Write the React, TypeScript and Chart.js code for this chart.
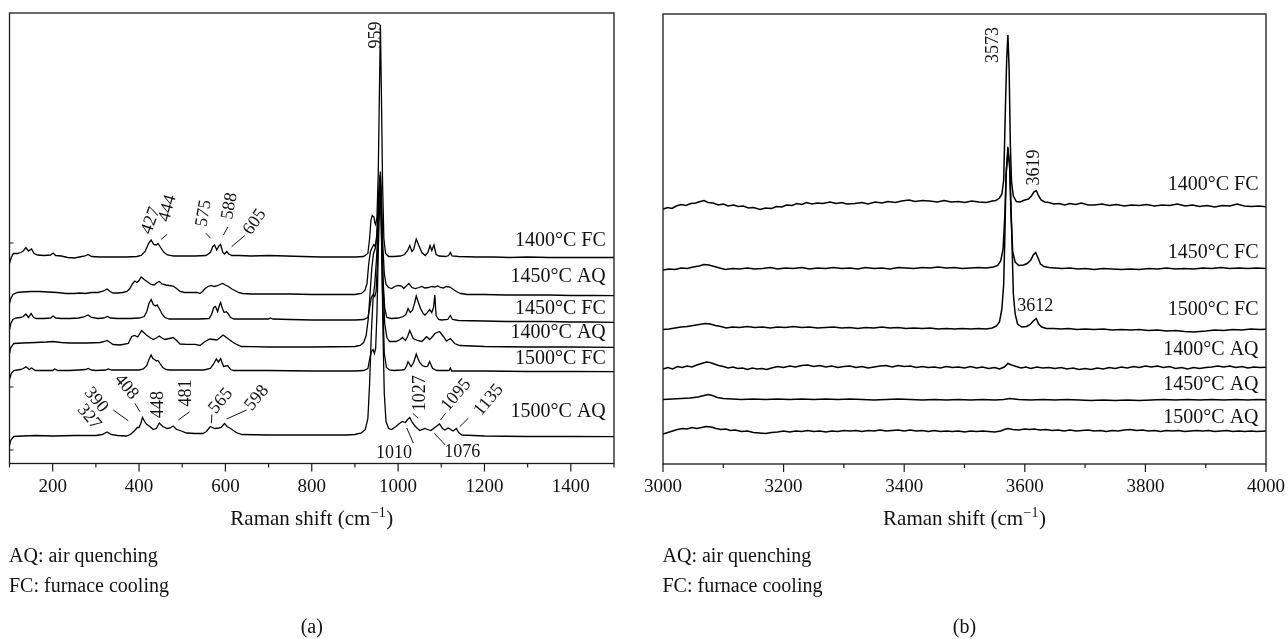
import React, { useEffect, useRef } from "react";
import { Chart, registerables } from "chart.js";

Chart.register(...registerables);

type Pt = [number, number];

const FONT = "'Liberation Serif', 'Times New Roman', 'DejaVu Serif', serif";

// ================= Panel (a): 100–1500 cm-1 =================
const aTickLabels = [200, 400, 600, 800, 1000, 1200, 1400];
const aSeriesNames = ["1400°C FC", "1450°C AQ", "1450°C FC", "1400°C AQ", "1500°C FC", "1500°C AQ"];

const a1400FC: Pt[] = [
  [100, 200], [104, 206], [109, 210], [118, 210], [126, 211], [132, 212.5], [138, 216], [144, 212.5], [151, 214.5], [157, 210],
  [165, 208.5], [180, 208], [195, 208.5], [201, 210.5], [207, 208], [220, 207.5], [235, 206], [250, 205.5], [262, 206.5],
  [275, 207.5], [282, 209], [290, 207], [310, 206.5], [340, 206.5], [370, 206.5], [395, 207], [405, 208], [414, 212],
  [422, 220], [428, 223.5], [434, 219], [440, 218.5], [444, 220], [450, 216], [458, 211], [466, 208.5], [480, 207.5],
  [500, 207.5], [530, 207.5], [555, 208], [565, 211], [571, 217], [575, 218.5], [580, 213.5], [585, 217.5], [589, 219],
  [594, 211], [598, 209.5], [603, 212], [608, 209.5], [615, 208], [630, 208], [660, 207.5], [700, 208], [740, 207.5],
  [780, 207], [820, 206.5], [860, 206.5], [900, 206.5], [920, 207], [930, 210], [934, 225], [937, 243], [940, 248],
  [944, 246.5], [946, 241], [948, 239], [951, 246], [954, 290], [957, 380], [959, 438.5], [961, 380], [964, 280],
  [967, 225], [971, 210], [978, 207], [990, 207], [1005, 207.5], [1015, 209], [1022, 213], [1027, 218], [1032, 212],
  [1036, 214], [1042, 224.5], [1048, 218], [1055, 211], [1063, 208], [1069, 211], [1074, 218], [1078, 213], [1083, 218.5],
  [1088, 209], [1095, 207.5], [1110, 207], [1117, 208], [1121, 211], [1125, 207.5], [1140, 207], [1180, 206.5],
  [1220, 206.5], [1260, 206], [1300, 206.5], [1350, 206], [1400, 206], [1450, 206], [1500, 206],
];

const a1450AQ: Pt[] = [
  [100, 160], [103, 165], [108, 169], [118, 171], [130, 171.5], [150, 172], [170, 172], [190, 171.5], [210, 171],
  [230, 170], [250, 170], [262, 170.5], [275, 170], [290, 171], [305, 171], [318, 172.5], [326, 174.5], [333, 172],
  [340, 170.5], [350, 170.5], [362, 171], [372, 172], [379, 175], [385, 180], [390, 182.5], [395, 181], [400, 183],
  [405, 186.5], [412, 184], [420, 181.5], [428, 179], [435, 178.5], [442, 181], [447, 182], [453, 179.5], [462, 178.5],
  [470, 178], [479, 177.5], [487, 175], [495, 172], [505, 171], [520, 171], [535, 171], [541, 170], [547, 172],
  [553, 175], [560, 177], [567, 178], [574, 177], [580, 177.5], [587, 179], [594, 180], [600, 178.5], [607, 177],
  [615, 174.5], [622, 173], [630, 171], [640, 170], [660, 169.5], [700, 169.5], [750, 169.5], [800, 169], [850, 169],
  [900, 169], [915, 170], [923, 173], [928, 180], [932, 200], [936, 212], [940, 216], [944, 219], [947, 217], [950, 224],
  [953, 250], [956, 280], [959, 292], [962, 260], [965, 215], [968, 190], [972, 179], [978, 176], [985, 175], [992, 177],
  [1000, 178], [1008, 177.5], [1013, 175], [1020, 178], [1025, 180], [1032, 176], [1040, 175], [1048, 176], [1055, 177],
  [1062, 175.5], [1070, 176], [1078, 177], [1085, 176.5], [1092, 177.5], [1098, 176], [1105, 175.5], [1112, 177],
  [1120, 176.5], [1128, 174], [1135, 172], [1145, 170], [1160, 169], [1200, 169], [1250, 168.5], [1300, 168.5],
  [1350, 168.5], [1400, 168], [1450, 168], [1500, 167.8],
];

const a1450FC: Pt[] = [
  [100, 134], [103, 140], [108, 144], [115, 145.5], [125, 146], [132, 147], [138, 149.5], [144, 146], [150, 150],
  [156, 146], [162, 145], [180, 145], [195, 145.5], [201, 147.5], [207, 145.5], [220, 145], [240, 145], [260, 145.5],
  [272, 146.5], [282, 148.5], [290, 146], [305, 145], [318, 145.5], [327, 147], [334, 145.5], [350, 145], [380, 145],
  [400, 145.5], [412, 147], [418, 152], [423, 160], [428, 164], [433, 159], [438, 157.5], [442, 158.5], [448, 154],
  [454, 149], [460, 146], [470, 144.5], [500, 144.5], [540, 144.5], [562, 145], [568, 149], [573, 156], [577, 157],
  [582, 152], [586, 158], [589, 161], [593, 155], [597, 151], [602, 151.8], [606, 150], [612, 146], [620, 144.5],
  [660, 144.5], [700, 144.5], [704, 145.5], [710, 144.5], [750, 144], [800, 143.5], [850, 143.5], [900, 143.5],
  [920, 144], [930, 146], [934, 155], [938, 166], [942, 169], [946, 167], [949, 172], [952, 200], [955, 250], [959, 288],
  [962, 240], [965, 185], [969, 155], [974, 146], [985, 145], [1000, 145.5], [1012, 147], [1018, 149], [1023, 155],
  [1028, 151], [1033, 153], [1038, 160], [1042, 167.5], [1047, 161], [1052, 155], [1058, 150], [1062, 148.5],
  [1068, 151], [1073, 154], [1078, 151], [1082, 156], [1085, 168.5], [1088, 148], [1094, 144], [1100, 143.5],
  [1115, 144], [1121, 148], [1126, 144], [1140, 143], [1200, 142.5], [1250, 142], [1300, 142], [1350, 142],
  [1400, 141.5], [1450, 141.5], [1500, 141.2],
];

const a1400AQ: Pt[] = [
  [100, 110], [103, 116], [110, 120], [130, 120.5], [160, 121], [185, 121.5], [200, 122], [220, 121], [240, 120.5],
  [280, 120.5], [310, 121], [320, 122], [326, 123], [333, 121], [340, 119], [356, 118.5], [375, 120], [383, 127],
  [390, 128], [397, 126.5], [406, 133], [417, 128.5], [425, 126], [433, 124], [440, 125.5], [447, 127.5], [453, 125.5],
  [460, 124], [470, 125], [479, 126], [487, 123], [495, 119.5], [510, 119.2], [530, 119.2], [541, 118], [553, 122],
  [564, 124.5], [572, 124], [580, 123.5], [588, 126], [595, 128.5], [601, 126.5], [607, 124.5], [615, 122], [622, 120],
  [637, 117], [660, 116.8], [700, 116.5], [800, 116.5], [900, 117], [912, 118], [920, 121], [926, 128], [931, 145],
  [935, 170], [939, 195], [943, 210], [947, 215], [951, 230], [955, 260], [959, 282], [962, 240], [965, 180], [969, 140],
  [974, 126], [980, 122], [995, 122], [1005, 124], [1010, 126], [1017, 123], [1022, 127], [1027, 133], [1032, 128],
  [1035, 125], [1045, 123], [1055, 122], [1066, 126.8], [1073, 124], [1080, 127], [1085, 130], [1096, 132], [1105, 127],
  [1112, 122.5], [1121, 125], [1131, 120], [1143, 118], [1200, 117], [1300, 116.5], [1400, 116.5], [1500, 116.2],
];

const a1500FC: Pt[] = [
  [100, 84], [104, 90], [110, 93], [125, 94], [132, 95], [138, 96.8], [146, 94], [151, 95.5], [160, 93], [200, 93],
  [205, 94.5], [212, 93], [240, 93], [260, 93.5], [276, 94], [282, 95], [290, 93.5], [300, 93], [322, 93.5], [329, 94.5],
  [336, 93.5], [345, 93.5], [400, 93.5], [410, 94.5], [418, 98], [423, 104], [428, 108.5], [432, 105], [436, 104],
  [440, 102.5], [444, 103], [450, 99], [455, 96], [462, 94], [470, 93.5], [550, 93.5], [565, 95], [572, 99],
  [579, 104.5], [584, 101.5], [589, 105], [593, 100], [596, 97], [601, 97.5], [605, 98], [612, 94], [620, 93],
  [700, 93], [800, 92.5], [900, 92.5], [920, 93], [930, 95], [934, 104], [938, 112], [942, 114], [945, 110], [948, 115],
  [951, 150], [954, 210], [957, 260], [959, 276], [961, 245], [964, 170], [968, 110], [973, 96], [980, 93.5], [990, 93],
  [1008, 93.5], [1015, 94], [1020, 98], [1023, 101.8], [1027, 99], [1030, 97], [1036, 101], [1042, 109.5], [1046, 105],
  [1050, 101], [1056, 98], [1062, 96.8], [1068, 97], [1073, 101.8], [1077, 98], [1080, 95], [1090, 93], [1118, 93],
  [1121, 95.5], [1124, 92.5], [1200, 92.5], [1300, 92], [1400, 92], [1500, 91.8],
];

const a1500AQ: Pt[] = [
  [100, 18], [103, 23.5], [110, 27], [130, 27.5], [160, 28], [200, 27.5], [250, 28], [300, 28], [315, 29], [326, 31.5],
  [335, 29], [350, 28], [371, 27.5], [380, 29], [390, 33], [396, 36], [400, 36], [404, 40], [408, 46], [413, 42],
  [417, 39.5], [425, 37], [433, 34], [440, 35], [447, 40.5], [455, 37], [465, 35], [472, 35.5], [479, 37.5], [487, 34],
  [495, 33], [510, 30.5], [530, 30], [548, 30], [556, 32], [565, 37], [570, 36], [575, 35], [585, 35.5], [590, 36],
  [598, 40], [604, 37], [612, 35], [625, 31], [638, 29], [700, 28.5], [800, 28.5], [880, 28.5], [900, 29], [915, 30.5],
  [924, 34], [930, 45], [934, 80], [938, 130], [942, 165], [946, 180], [950, 205], [954, 240], [959, 270], [962, 215],
  [965, 130], [968, 70], [972, 42], [978, 35], [985, 34], [995, 37], [1003, 40], [1010, 42], [1017, 41], [1022, 44],
  [1027, 46], [1033, 41], [1040, 37], [1050, 33], [1062, 35], [1068, 34], [1076, 33], [1085, 36], [1096, 39.5],
  [1103, 35], [1108, 33.5], [1116, 35.5], [1122, 34], [1127, 32.5], [1135, 35], [1140, 31], [1148, 28.5], [1200, 27.5],
  [1300, 27], [1400, 27], [1500, 26.8],
];

// ================= Panel (b): 3000–4000 cm-1 =================
const bTickLabels = [3000, 3200, 3400, 3600, 3800, 4000];
const bSeriesNames = ["1400°C FC", "1450°C FC", "1500°C FC", "1400°C AQ", "1450°C AQ", "1500°C AQ"];

const b1400FC: Pt[] = [
  [3000, 255], [3008, 256.5], [3015, 255.5], [3022, 258], [3030, 259.5], [3038, 258.5], [3046, 260.5], [3054, 261],
  [3062, 262.5], [3068, 263.5], [3075, 261.5], [3083, 261], [3092, 259], [3100, 260], [3108, 258], [3117, 259],
  [3125, 257.5], [3133, 258], [3142, 256], [3150, 256.5], [3161, 254.5], [3170, 256], [3180, 255.5], [3188, 257.5],
  [3197, 257], [3205, 259], [3214, 258.5], [3222, 260.5], [3230, 259.5], [3238, 261.5], [3247, 260], [3256, 261],
  [3265, 260.5], [3277, 262], [3287, 260.5], [3296, 261.5], [3305, 260], [3318, 260.5], [3330, 261.5], [3340, 260],
  [3352, 262], [3363, 261], [3373, 262.5], [3385, 261.5], [3396, 263], [3408, 264], [3418, 262.5], [3430, 263.5],
  [3442, 263], [3455, 262], [3466, 263.5], [3478, 262], [3490, 262.5], [3500, 261.5], [3512, 263], [3524, 262],
  [3536, 261.5], [3546, 263], [3552, 263.5], [3558, 266], [3562, 270], [3565, 284], [3568, 360], [3570, 405],
  [3572, 429], [3574, 395], [3576, 320], [3578, 282], [3581, 268], [3586, 262.5], [3592, 262], [3600, 264],
  [3606, 265], [3611, 268], [3615, 272], [3619, 273.5], [3623, 268], [3627, 264], [3633, 262], [3640, 261.5],
  [3648, 260], [3657, 260.5], [3666, 259], [3675, 260.5], [3684, 259.5], [3694, 261], [3705, 259], [3716, 259],
  [3728, 260], [3740, 258.5], [3752, 259.5], [3765, 258], [3777, 259], [3790, 258.5], [3802, 259.5], [3815, 258],
  [3828, 259], [3840, 258.5], [3853, 260], [3866, 258], [3878, 259], [3890, 257.5], [3902, 258.5], [3915, 257],
  [3928, 258.5], [3940, 258], [3952, 260], [3964, 258], [3976, 257.5], [3988, 258], [4000, 257.3],
];

const b1450FC: Pt[] = [
  [3000, 194], [3010, 195], [3020, 194.5], [3030, 196], [3040, 195.5], [3050, 197], [3060, 198], [3068, 199.5],
  [3076, 199], [3085, 197.5], [3094, 196], [3103, 194.5], [3115, 195.5], [3127, 195], [3140, 196], [3152, 195],
  [3165, 195.5], [3178, 196.5], [3190, 195], [3203, 196], [3216, 195.5], [3230, 196.5], [3243, 195], [3256, 196],
  [3270, 195.5], [3283, 196.5], [3296, 195.5], [3310, 196], [3323, 195], [3336, 196.5], [3350, 195.5], [3363, 196],
  [3376, 195], [3390, 196.5], [3403, 196], [3416, 195.5], [3430, 196.5], [3443, 196], [3456, 197], [3470, 196],
  [3483, 196.5], [3496, 195.5], [3510, 196], [3523, 196.5], [3536, 196], [3548, 197], [3555, 198.5], [3560, 203],
  [3564, 215], [3567, 250], [3569, 290], [3572, 317], [3575, 295], [3577, 250], [3580, 212], [3584, 202],
  [3590, 198.5], [3598, 199], [3604, 200.5], [3610, 204], [3614, 209], [3618, 211.5], [3622, 206], [3626, 200],
  [3632, 197.5], [3640, 196.5], [3650, 196], [3662, 195.5], [3675, 196], [3688, 195], [3700, 195.5], [3715, 194.5],
  [3730, 195.5], [3745, 195], [3760, 194.5], [3775, 195], [3790, 194.5], [3805, 195.5], [3820, 195], [3835, 196],
  [3850, 195], [3865, 195.5], [3880, 195], [3895, 196], [3910, 195.5], [3925, 196.5], [3940, 195.5], [3955, 196],
  [3970, 195.5], [3985, 196], [4000, 195.5],
];

const b1500FC: Pt[] = [
  [3000, 134.5], [3010, 135], [3020, 136], [3030, 137], [3040, 137.5], [3050, 138.5], [3060, 139.5], [3070, 140.5],
  [3078, 140], [3087, 138.5], [3096, 137.5], [3105, 136], [3115, 137], [3127, 136.5], [3140, 137.5], [3152, 136.5],
  [3165, 137], [3178, 136], [3190, 137], [3203, 136.5], [3216, 137.5], [3230, 136.5], [3243, 137], [3256, 136],
  [3270, 136.5], [3283, 137], [3296, 136], [3310, 136.5], [3323, 135.5], [3336, 136.5], [3350, 136], [3363, 137],
  [3376, 136], [3390, 136.5], [3403, 135.5], [3416, 136], [3430, 135.5], [3443, 136], [3456, 135], [3470, 135.5],
  [3483, 135], [3496, 135.5], [3510, 135], [3523, 135.5], [3536, 135], [3546, 136], [3553, 138], [3558, 142],
  [3562, 155], [3565, 180], [3567, 230], [3569, 290], [3572, 312], [3575, 300], [3578, 240], [3581, 170],
  [3584, 150], [3588, 140], [3595, 137], [3603, 137.5], [3609, 139.5], [3614, 143], [3619, 145.5], [3623, 140],
  [3628, 137], [3636, 135.5], [3648, 135.5], [3660, 135], [3673, 135.5], [3686, 134.5], [3700, 135], [3715, 134.5],
  [3730, 135], [3745, 134], [3760, 134.5], [3775, 134], [3790, 134.5], [3805, 133.5], [3820, 134], [3835, 133],
  [3850, 133.5], [3865, 132.5], [3880, 132], [3890, 132.5], [3900, 133], [3915, 134], [3930, 133.5], [3945, 134.5],
  [3960, 134], [3975, 135], [3990, 134.5], [4000, 134.7],
];

const b1400AQ: Pt[] = [
  [3000, 95], [3008, 96.5], [3016, 95], [3024, 97.5], [3032, 96.5], [3040, 98], [3048, 97], [3056, 99], [3064, 100.5],
  [3072, 102], [3078, 101.5], [3085, 100], [3092, 98.5], [3100, 97.5], [3108, 96], [3116, 97], [3124, 95.5],
  [3132, 96], [3140, 94.5], [3148, 96], [3156, 95], [3164, 95.5], [3172, 94.5], [3180, 96], [3190, 97.5], [3200, 96.5],
  [3210, 98], [3220, 97], [3230, 98.5], [3240, 99], [3250, 97.5], [3260, 98.5], [3270, 97], [3280, 98], [3290, 96.5],
  [3300, 97.5], [3310, 98], [3320, 96.5], [3330, 97.5], [3340, 96], [3350, 97], [3360, 98], [3370, 98.5], [3380, 97],
  [3390, 98.5], [3400, 97.5], [3410, 98], [3420, 96.5], [3430, 97.5], [3440, 96.5], [3450, 97], [3460, 96],
  [3470, 97.5], [3480, 96.5], [3490, 97], [3500, 96], [3510, 97.5], [3520, 96], [3530, 97], [3540, 95.5],
  [3550, 96.5], [3558, 95], [3566, 97], [3572, 100.5], [3578, 99], [3586, 97.5], [3594, 96], [3602, 97], [3610, 95.5],
  [3620, 97], [3630, 96], [3640, 96.5], [3650, 95.5], [3660, 96.5], [3670, 95], [3680, 96], [3690, 94.5],
  [3700, 95.5], [3710, 94.5], [3720, 96], [3730, 95], [3740, 96.5], [3750, 95.5], [3760, 97], [3770, 96],
  [3780, 97.5], [3790, 96.5], [3800, 98], [3810, 97], [3820, 98], [3830, 96.5], [3840, 97.5], [3850, 95.5],
  [3860, 96.5], [3870, 95], [3880, 96.5], [3890, 95.5], [3900, 96.5], [3910, 97], [3920, 98], [3930, 97],
  [3940, 98], [3950, 96.5], [3960, 97.5], [3970, 96], [3980, 97], [3990, 96.5], [4000, 96.7],
];

const b1450AQ: Pt[] = [
  [3000, 64.5], [3015, 65], [3030, 65.5], [3045, 66], [3058, 67], [3068, 68.5], [3075, 69.5], [3082, 68.5],
  [3090, 66.5], [3100, 65.5], [3115, 65], [3130, 64.5], [3150, 65], [3170, 64.5], [3190, 65], [3210, 64.5],
  [3230, 65], [3250, 64.5], [3270, 65], [3290, 64.5], [3310, 65], [3330, 64.5], [3350, 64], [3370, 64.5], [3390, 65],
  [3410, 64.5], [3430, 64], [3450, 64.5], [3470, 64], [3490, 64.5], [3510, 64], [3530, 64.5], [3550, 64],
  [3565, 64.5], [3575, 65.5], [3590, 64.5], [3610, 64], [3630, 64.5], [3650, 64], [3670, 64.5], [3690, 64],
  [3710, 63.5], [3730, 64], [3750, 63.5], [3770, 64], [3790, 63.5], [3810, 64], [3830, 64.5], [3850, 64],
  [3870, 64.5], [3890, 64], [3910, 64.5], [3930, 64], [3950, 64.5], [3970, 64], [3985, 64.5], [4000, 64.3],
];

const b1500AQ: Pt[] = [
  [3000, 30], [3008, 31.5], [3016, 33], [3024, 34.5], [3032, 35.5], [3040, 35], [3048, 36.5], [3056, 35.5],
  [3064, 36.5], [3072, 37.5], [3080, 37], [3088, 35.5], [3096, 34.5], [3104, 35], [3112, 33.5], [3120, 34],
  [3130, 32.5], [3140, 33], [3150, 31.5], [3160, 31], [3170, 30.5], [3180, 31.5], [3190, 32], [3200, 33],
  [3210, 32], [3220, 33], [3230, 32.5], [3240, 33.5], [3250, 32.5], [3260, 33], [3270, 32], [3280, 33], [3290, 32.5],
  [3300, 33.5], [3310, 33], [3320, 33.5], [3330, 32.5], [3340, 33.5], [3350, 33], [3360, 34], [3370, 33],
  [3380, 33.5], [3390, 34], [3400, 33], [3410, 34], [3420, 33], [3430, 33.5], [3440, 32.5], [3450, 33.5],
  [3460, 32.5], [3470, 33], [3480, 32.5], [3490, 33], [3500, 32], [3510, 33], [3520, 32.5], [3530, 33],
  [3540, 32.5], [3550, 32], [3560, 33], [3566, 34.5], [3572, 35.5], [3580, 34.5], [3590, 34], [3600, 35],
  [3608, 34.5], [3616, 35], [3625, 34], [3635, 34.5], [3645, 33.5], [3655, 34], [3665, 33], [3675, 34], [3685, 33],
  [3695, 33.5], [3705, 34], [3715, 33], [3725, 33.5], [3735, 32.5], [3745, 33.5], [3755, 33], [3765, 34],
  [3775, 34.5], [3785, 33.5], [3795, 34], [3805, 33], [3815, 33.5], [3825, 32.5], [3835, 33.5], [3845, 33],
  [3855, 33.5], [3865, 32.5], [3875, 33], [3885, 33.5], [3895, 33], [3905, 33.5], [3915, 32.5], [3925, 33],
  [3935, 33.5], [3945, 32.5], [3955, 33], [3965, 32.5], [3975, 33], [3985, 32.5], [4000, 33],
];

// ================= Panel configuration (layout / labels) =================
interface Ann { t: string; x: number; y: number; r: number; l?: [number, number, number, number] }
interface PanelCfg {
  series: Pt[][];
  names: string[];
  nameX: number;
  nameY: number[];
  ticks: number[];
  xMin: number; xMax: number; yMax: number;
  minorStep: number; majorStep: number;
  yTicks: number[];
  anns: Ann[];
  caption: string;
  pad: { left: number; right: number; top: number };
  axisH: number;
  lw: number;
}

const panelA: PanelCfg = {
  series: [a1400FC, a1450AQ, a1450FC, a1400AQ, a1500FC, a1500AQ],
  names: aSeriesNames,
  nameX: 1481,
  nameY: [222.5, 186.8, 154.5, 130.5, 104.5, 51.8],
  ticks: aTickLabels,
  xMin: 100, xMax: 1500, yMax: 450.5,
  minorStep: 100, majorStep: 200,
  yTicks: [220.5, 76.5, 13.5],
  anns: [
    { t: "959", x: 950, y: 428.5, r: -90 },
    { t: "427", x: 427.5, y: 242.8, r: -70 },
    { t: "444", x: 466.4, y: 255.2, r: -75, l: [451.2, 224.2, 465.3, 229.2] },
    { t: "575", x: 550.2, y: 250.2, r: -80, l: [554.9, 230.2, 565.7, 225.2] },
    { t: "588", x: 610, y: 257.5, r: -80, l: [595.4, 228.5, 605.8, 236.5] },
    { t: "605", x: 668.3, y: 241.5, r: -55, l: [614.4, 216.8, 645.1, 228] },
    { t: "327", x: 284, y: 46.5, r: 50 },
    { t: "390", x: 300.2, y: 63.5, r: 50, l: [340.3, 53.5, 375, 42.8] },
    { t: "408", x: 370.4, y: 76.5, r: 50, l: [390.5, 60.2, 402.1, 51.8] },
    { t: "448", x: 443.8, y: 59, r: -90 },
    { t: "481", x: 508.6, y: 70.5, r: -90, l: [491, 43.5, 517.4, 51.8] },
    { t: "565", x: 589.6, y: 62.5, r: -50, l: [567.4, 40.2, 568.8, 49] },
    { t: "598", x: 672.9, y: 65.5, r: -50, l: [602.8, 44.5, 649.1, 53.5] },
    { t: "1027", x: 1051.2, y: 70.2, r: -90, l: [1034, 50.2, 1046.5, 45.2] },
    { t: "1010", x: 990.7, y: 10.5, r: 0, l: [1020.1, 35.5, 1035.2, 20.5] },
    { t: "1095", x: 1134.7, y: 68.5, r: -50, l: [1098.4, 43.5, 1109.7, 50.2] },
    { t: "1076", x: 1148.6, y: 11.5, r: 0, l: [1083.8, 30.2, 1109.3, 18.5] },
    { t: "1135", x: 1210, y: 63.5, r: -50, l: [1142.8, 36.8, 1162.5, 45.2] },
  ],
  caption: "(a)",
  pad: { left: 9.5, right: 30, top: 13 },
  axisH: 175.5,
  lw: 1.3,
};

const panelB: PanelCfg = {
  series: [b1400FC, b1450FC, b1500FC, b1400AQ, b1450AQ, b1500AQ],
  names: bSeriesNames,
  nameX: 3987.6,
  nameY: [279, 211.7, 154, 114, 79, 46.7],
  ticks: bTickLabels,
  xMin: 3000, xMax: 4000, yMax: 450,
  minorStep: 100, majorStep: 200,
  yTicks: [],
  anns: [
    { t: "3573", x: 3547.7, y: 419, r: -90 },
    { t: "3619", x: 3615.8, y: 296.5, r: -90 },
    { t: "3612", x: 3617.4, y: 158, r: 0 },
  ],
  caption: "(b)",
  pad: { left: 19, right: 22, top: 14 },
  axisH: 175,
  lw: 1.5,
};

function makeDecor(cfg: PanelCfg) {
  return {
    id: "decor",
    afterDatasetsDraw(chart: any) {
      const ctx: CanvasRenderingContext2D = chart.ctx;
      const a = chart.chartArea;
      const xs = chart.scales.x;
      const ys = chart.scales.y;
      ctx.save();
      // frame
      ctx.strokeStyle = "#1a1a1a";
      ctx.lineWidth = 1.3;
      ctx.strokeRect(a.left, a.top, a.right - a.left, a.bottom - a.top);
      // x ticks (major/minor, outward)
      ctx.lineWidth = 1.2;
      ctx.beginPath();
      for (let v = cfg.xMin; v <= cfg.xMax + 0.01; v += cfg.minorStep) {
        const p = xs.getPixelForValue(v);
        const len = v % cfg.majorStep === 0 ? 8 : 4;
        ctx.moveTo(p, a.bottom);
        ctx.lineTo(p, a.bottom + len);
      }
      for (const yv of cfg.yTicks) {
        const p = ys.getPixelForValue(yv);
        ctx.moveTo(a.left, p);
        ctx.lineTo(a.left + 4, p);
      }
      ctx.stroke();

      ctx.fillStyle = "#111";
      // series names
      ctx.font = `20px ${FONT}`;
      ctx.textAlign = "right";
      ctx.textBaseline = "middle";
      cfg.names.forEach((n, i) => {
        ctx.fillText(n, xs.getPixelForValue(cfg.nameX), ys.getPixelForValue(cfg.nameY[i]));
      });

      // peak annotations
      ctx.font = `18px ${FONT}`;
      ctx.textAlign = "center";
      ctx.lineWidth = 1;
      ctx.strokeStyle = "#111";
      for (const an of cfg.anns) {
        const px = xs.getPixelForValue(an.x);
        const py = ys.getPixelForValue(an.y);
        ctx.save();
        ctx.translate(px, py);
        ctx.rotate((an.r * Math.PI) / 180);
        ctx.fillText(an.t, 0, 0);
        ctx.restore();
        if (an.l) {
          ctx.beginPath();
          ctx.moveTo(xs.getPixelForValue(an.l[0]), ys.getPixelForValue(an.l[1]));
          ctx.lineTo(xs.getPixelForValue(an.l[2]), ys.getPixelForValue(an.l[3]));
          ctx.stroke();
        }
      }

      // axis title with superscript
      const cx = (a.left + a.right) / 2;
      const base = 525;
      ctx.textAlign = "left";
      ctx.textBaseline = "alphabetic";
      ctx.font = `21px ${FONT}`;
      const p1 = "Raman shift (cm";
      const p3 = ")";
      const w1 = ctx.measureText(p1).width;
      const w3 = ctx.measureText(p3).width;
      ctx.font = `14px ${FONT}`;
      const sup = "−1";
      const w2 = ctx.measureText(sup).width + 1;
      const x0 = cx - (w1 + w2 + w3) / 2;
      ctx.font = `21px ${FONT}`;
      ctx.fillText(p1, x0, base);
      ctx.font = `14px ${FONT}`;
      ctx.fillText(sup, x0 + w1 + 0.5, base - 8);
      ctx.font = `21px ${FONT}`;
      ctx.fillText(p3, x0 + w1 + w2, base);

      // notes
      ctx.font = `20px ${FONT}`;
      ctx.textBaseline = "middle";
      ctx.fillText("AQ: air quenching", a.left - 0.5, 557);
      ctx.fillText("FC: furnace cooling", a.left - 0.5, 587);

      // caption
      ctx.textAlign = "center";
      ctx.fillText(cfg.caption, cx, 628);
      ctx.restore();
    },
  };
}

function Panel({ cfg, left }: { cfg: PanelCfg; left: number }) {
  const ref = useRef<HTMLCanvasElement>(null);
  useEffect(() => {
    const canvas = ref.current;
    if (!canvas) return;
    const chart = new Chart(canvas, {
      type: "line",
      data: {
        datasets: cfg.series.map((s, i) => ({
          label: cfg.names[i],
          data: s.map(([x, y]) => ({ x, y })),
          borderColor: "#000",
          borderWidth: cfg.lw,
          pointRadius: 0,
          fill: false,
          tension: 0,
        })),
      },
      options: {
        animation: false,
        responsive: false,
        devicePixelRatio: 1,
        events: [],
        layout: { padding: { left: cfg.pad.left, right: cfg.pad.right, top: cfg.pad.top, bottom: 0 } },
        plugins: { legend: { display: false }, tooltip: { enabled: false } },
        scales: {
          x: {
            type: "linear",
            min: cfg.xMin,
            max: cfg.xMax,
            afterBuildTicks: (scale: any) => {
              scale.ticks = cfg.ticks.map((v) => ({ value: v }));
            },
            afterFit: (scale: any) => {
              scale.height = cfg.axisH;
            },
            ticks: {
              autoSkip: false,
              maxRotation: 0,
              padding: 0,
              color: "#111",
              font: { family: FONT, size: 19 },
              callback: (v: any) => String(v),
            },
            grid: { display: false, drawTicks: true, tickLength: 12 },
            border: { display: false },
          },
          y: { type: "linear", display: false, min: 0, max: cfg.yMax },
        },
      } as any,
      plugins: [makeDecor(cfg)],
    });
    return () => chart.destroy();
  }, [cfg]);
  return (
    <canvas
      ref={ref}
      width={644}
      height={639}
      style={{ position: "absolute", left, top: 0, width: 644, height: 639 }}
    />
  );
}

export default function App() {
  return (
    <div style={{ position: "absolute", left: 0, top: 0, width: 1288, height: 639, background: "#fff", overflow: "hidden" }}>
      <Panel cfg={panelA} left={0} />
      <Panel cfg={panelB} left={644} />
    </div>
  );
}
